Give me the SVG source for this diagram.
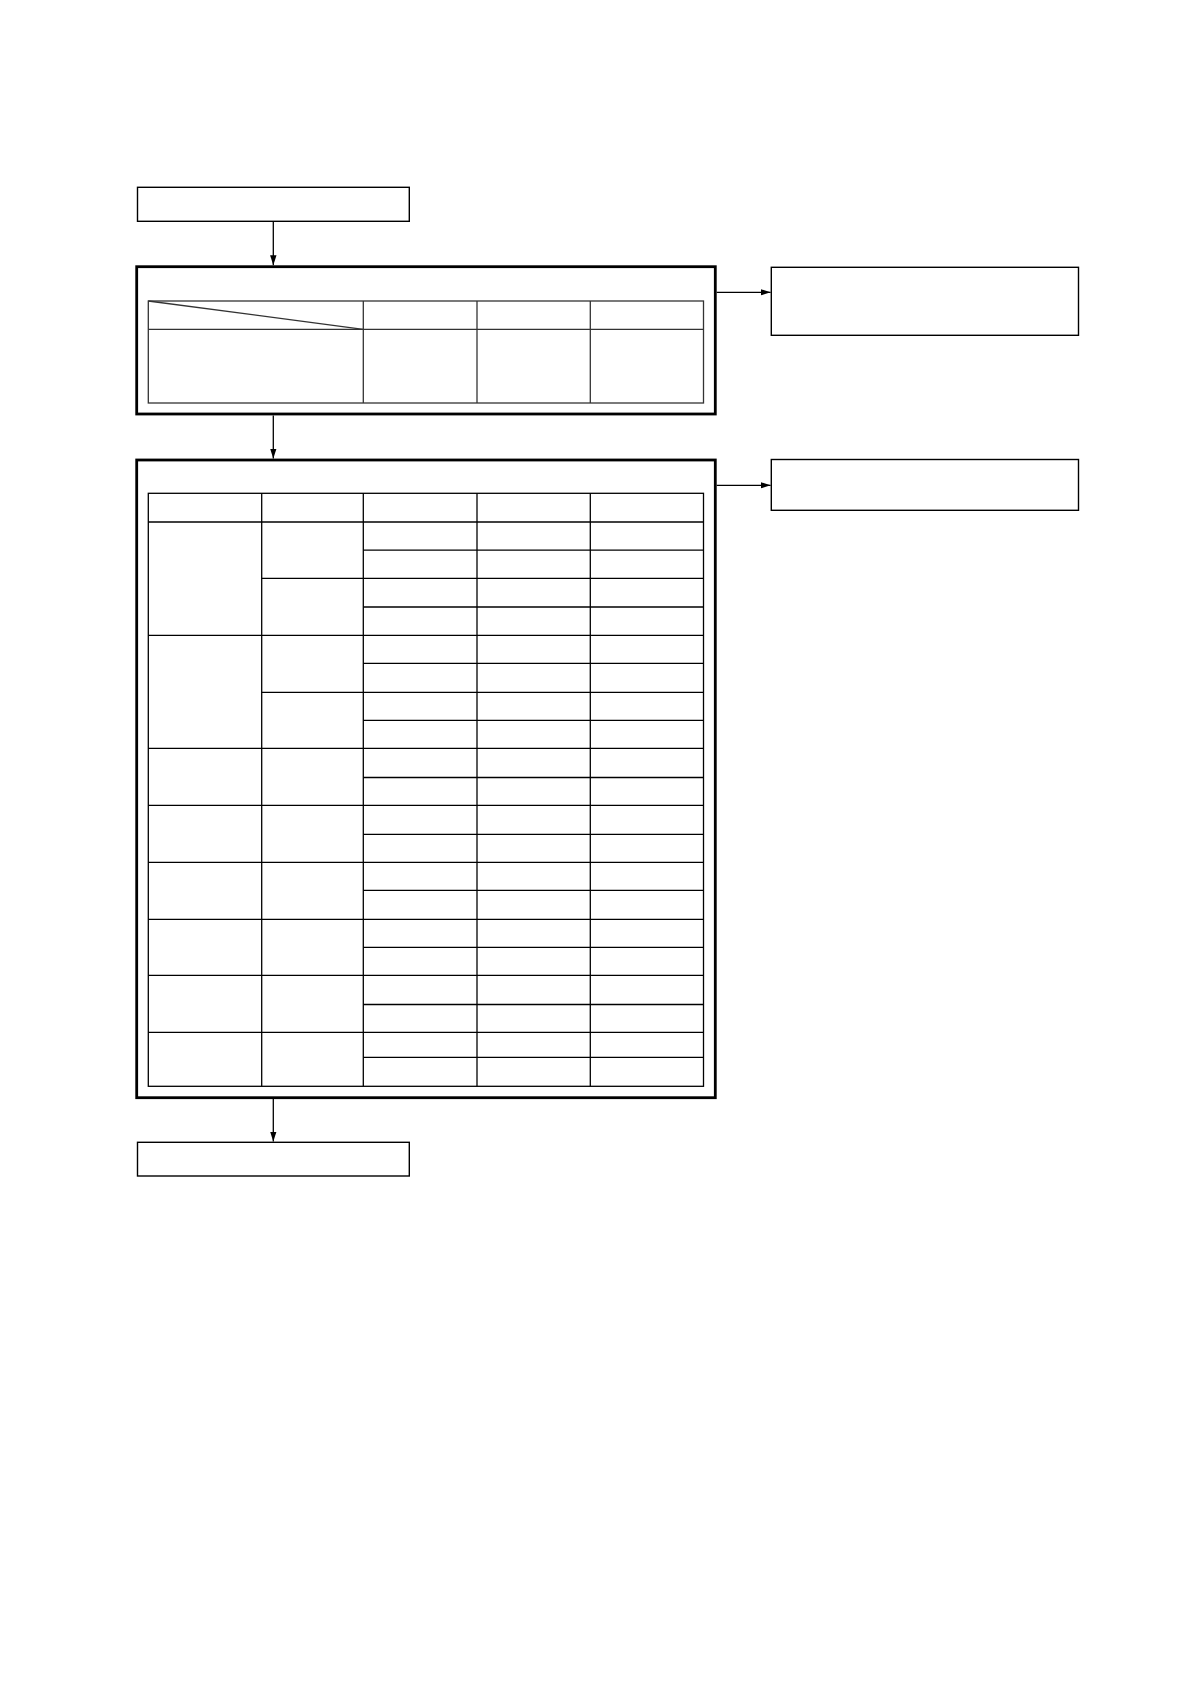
<svg xmlns="http://www.w3.org/2000/svg" width="1190" height="1684" viewBox="0 0 1190 1684">
<defs>
<style>
.box{fill:#fff;stroke:#000;stroke-width:1.4}
.thick{fill:#fff;stroke:#000;stroke-width:2.8}
.grid{fill:none;stroke:#000;stroke-width:1.3}
.grid1{fill:none;stroke:#333;stroke-width:1.3}
.conn{fill:none;stroke:#000;stroke-width:1.3}
</style>
<marker id="arr" viewBox="0 0 10 10" refX="10" refY="5" markerWidth="10" markerHeight="10" markerUnits="userSpaceOnUse" orient="auto">
<path d="M0,1.8 L10,5 L0,8.2 Z" fill="#000"/>
</marker>
</defs>
<rect width="1190" height="1684" fill="#fff"/>

<g id="start">
<rect class="box" x="137.5" y="187.3" width="271.8" height="34"/>
</g>

<g id="block1">
<rect class="thick" x="136.7" y="266.7" width="578.6" height="147.3"/>
<g class="grid1">
<rect x="148.3" y="301" width="555.2" height="102"/>
<line x1="148.3" y1="329.3" x2="703.5" y2="329.3"/>
<line x1="363.3" y1="301" x2="363.3" y2="403"/>
<line x1="477" y1="301" x2="477" y2="403"/>
<line x1="590.3" y1="301" x2="590.3" y2="403"/>
<line x1="148.3" y1="301" x2="363.3" y2="329.3"/>
</g>
</g>

<g id="note1">
<rect class="box" x="771.3" y="267.3" width="307.2" height="68"/>
</g>

<g id="block2">
<rect class="thick" x="136.7" y="460" width="578.6" height="637.7"/>
<g class="grid">
<rect x="148.3" y="493.3" width="555.2" height="593"/>
<line x1="148.3" y1="522" x2="703.5" y2="522"/>
<line x1="261.7" y1="493.3" x2="261.7" y2="1086.3"/>
<line x1="363.3" y1="493.3" x2="363.3" y2="1086.3"/>
<line x1="477" y1="493.3" x2="477" y2="1086.3"/>
<line x1="590.3" y1="493.3" x2="590.3" y2="1086.3"/>
<line x1="363.3" y1="550.2" x2="703.5" y2="550.2"/>
<line x1="261.7" y1="578.3" x2="703.5" y2="578.3"/>
<line x1="363.3" y1="607" x2="703.5" y2="607"/>
<line x1="148.3" y1="635.3" x2="703.5" y2="635.3"/>
<line x1="363.3" y1="663.3" x2="703.5" y2="663.3"/>
<line x1="261.7" y1="692.3" x2="703.5" y2="692.3"/>
<line x1="363.3" y1="720.3" x2="703.5" y2="720.3"/>
<line x1="148.3" y1="748.3" x2="703.5" y2="748.3"/>
<line x1="363.3" y1="777.5" x2="703.5" y2="777.5"/>
<line x1="148.3" y1="805.3" x2="703.5" y2="805.3"/>
<line x1="363.3" y1="834.3" x2="703.5" y2="834.3"/>
<line x1="148.3" y1="862.3" x2="703.5" y2="862.3"/>
<line x1="363.3" y1="890.3" x2="703.5" y2="890.3"/>
<line x1="148.3" y1="919.3" x2="703.5" y2="919.3"/>
<line x1="363.3" y1="947.3" x2="703.5" y2="947.3"/>
<line x1="148.3" y1="975.3" x2="703.5" y2="975.3"/>
<line x1="363.3" y1="1004.5" x2="703.5" y2="1004.5"/>
<line x1="148.3" y1="1032.3" x2="703.5" y2="1032.3"/>
<line x1="363.3" y1="1057.3" x2="703.5" y2="1057.3"/>
</g>
</g>

<g id="note2">
<rect class="box" x="771.3" y="459.5" width="307.2" height="50.8"/>
</g>

<g id="end">
<rect class="box" x="137.5" y="1142.3" width="271.8" height="33.7"/>
</g>

<g id="connectors">
<line class="conn" x1="273.3" y1="221.3" x2="273.3" y2="265.3" marker-end="url(#arr)"/>
<line class="conn" x1="716.7" y1="292.3" x2="770.6" y2="292.3" marker-end="url(#arr)"/>
<line class="conn" x1="273.3" y1="415.4" x2="273.3" y2="458.6" marker-end="url(#arr)"/>
<line class="conn" x1="716.7" y1="485.3" x2="770.6" y2="485.3" marker-end="url(#arr)"/>
<line class="conn" x1="273.3" y1="1099.1" x2="273.3" y2="1141.6" marker-end="url(#arr)"/>
</g>
</svg>
